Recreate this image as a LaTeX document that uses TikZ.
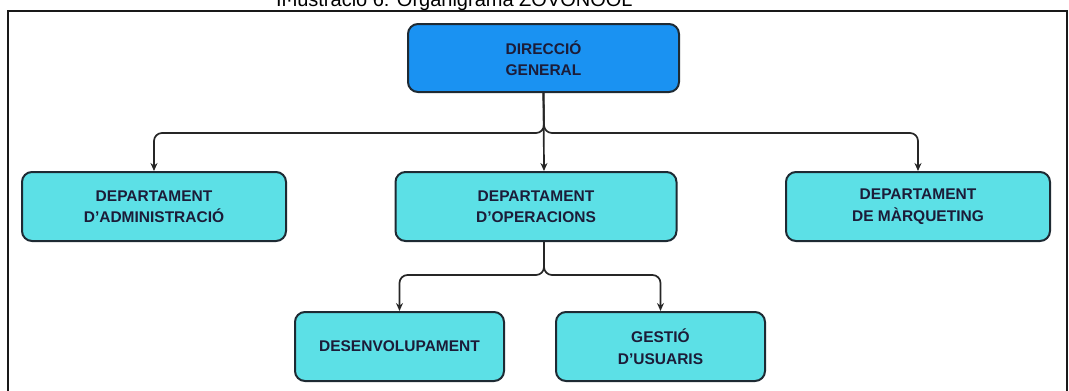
\documentclass[tikz,border=0pt]{standalone}
\usepackage{fontspec}
\setmainfont{Liberation Sans}
\usepackage{xcolor}
\usepackage{tikz}
\usetikzlibrary{positioning,calc,arrows.meta}

\definecolor{dirblue}{HTML}{1A92F2}
\definecolor{deptcyan}{HTML}{5CE0E6}
\definecolor{boxline}{HTML}{1E2A33}
\definecolor{boxtext}{HTML}{1C1C38}

\begin{document}
\begin{tikzpicture}[x=1pt,y=-1pt,
  unit/.style={draw=boxline,line width=2pt,rounded corners=10pt,fill=deptcyan,
    text=boxtext,align=center,inner sep=0pt,minimum height=69pt,
    font=\fontsize{15.5}{21.5}\selectfont\bfseries},
  boss/.style={unit,fill=dirblue,minimum height=68pt},
  conn/.style={draw=black!85,line width=1.7pt,rounded corners=8pt,
    -{Stealth[length=8pt,width=7pt]}},
  frame/.style={draw=black!90,line width=1.8pt}]
\useasboundingbox (0,0) rectangle (1069,391);
\clip (0,0) rectangle (1069,391);

% frame and caption
\draw[frame] (8,400) -- (8,11) -- (1067,11) -- (1067,400);
\node[anchor=base west,inner sep=0pt,font=\fontsize{20}{24}\selectfont] (caption)
  at (276,6) {Il·lustració 6: Organigrama ZOVONOOL};

% boxes
\node[boss,minimum width=271pt] (dir) at (543.5,58) {DIRECCIÓ\\GENERAL};
\node[unit,minimum width=264pt] (adm) at (154,206.5) {DEPARTAMENT\\D’ADMINISTRACIÓ};
\node[unit,minimum width=281pt] (ope) at (536,206.5) {DEPARTAMENT\\D’OPERACIONS};
\node[unit,minimum width=264pt] (mkt) at (918,206.5) {DEPARTAMENT\\DE MÀRQUETING};
\node[unit,minimum width=209pt] (dev) at (399.5,346.5) {DESENVOLUPAMENT};
\node[unit,minimum width=209pt] (gest) at (660.5,346.5) {GESTIÓ\\D’USUARIS};

% connectors
\coordinate (hub) at (544,133);
\coordinate (subhub) at (544,275);
\draw[conn] (dir.south) -- (hub) -| (adm.north);
\draw[conn] (dir.south) -- (hub) -| (mkt.north);
\draw[conn] (dir.south) -- (hub |- ope.north);
\draw[conn] (hub |- ope.south) -- (subhub) -| (dev.north);
\draw[conn] (hub |- ope.south) -- (subhub) -| (gest.north);
\end{tikzpicture}
\end{document}
